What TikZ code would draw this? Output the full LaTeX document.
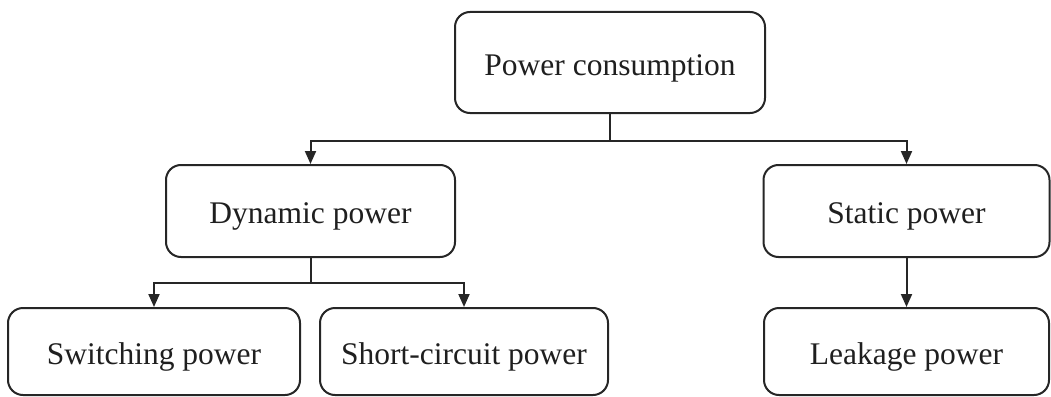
\documentclass[tikz,border=0pt]{standalone}
\usepackage{fontspec}
\setmainfont{Liberation Serif}
\usetikzlibrary{arrows.meta}
\begin{document}
\begin{tikzpicture}[x=1pt,y=1pt,
  box/.style={draw=black!85, line width=2pt, rounded corners=15pt, fill=white,
    text=black!88, font=\fontsize{31.5}{36}\selectfont, inner sep=0pt,
    text height=25pt, text depth=0pt},
  arr/.style={draw=black!85, line width=2pt, -{Triangle[length=13pt,width=11pt]}},
  lnk/.style={draw=black!85, line width=2pt}]
\useasboundingbox (0,0) rectangle (1051,-396);
\node[box, minimum width=310pt, minimum height=101pt] (pc) at (610,-62.5) {Power consumption};
\node[box, minimum width=289pt, minimum height=92pt] (dyn) at (310.5,-211) {Dynamic power};
\node[box, minimum width=286pt, minimum height=92pt] (sta) at (906.5,-211) {Static power};
\node[box, minimum width=292pt, minimum height=87pt] (sw) at (154,-351.5) {Switching power};
\node[box, minimum width=288pt, minimum height=87pt] (sc) at (464,-351.5) {Short-circuit power};
\node[box, minimum width=285pt, minimum height=87pt] (lk) at (906.5,-351.5) {Leakage power};
\draw[lnk] (pc.south) -- ++(0,-27) coordinate (j1);
\draw[arr] (j1) -| (dyn.north);
\draw[arr] (j1) -| (sta.north);
\draw[lnk] (dyn.south) -- ++(0,-25) coordinate (j2);
\draw[arr] (j2) -| (sw.north);
\draw[arr] (j2) -| (sc.north);
\draw[arr] (sta.south) -- (lk.north);
\end{tikzpicture}
\end{document}
